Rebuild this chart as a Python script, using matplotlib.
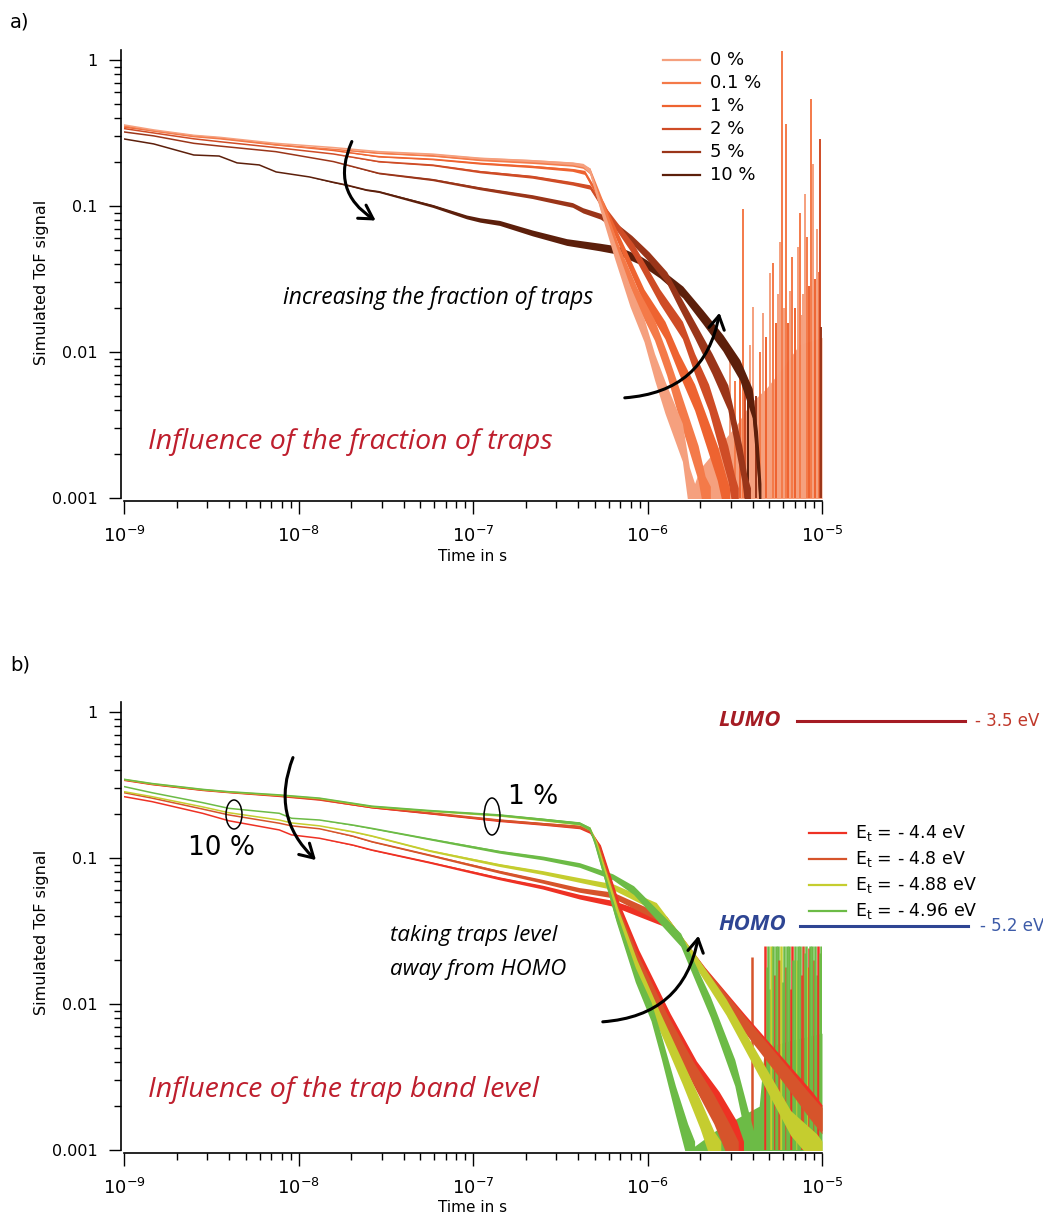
import numpy as np
import matplotlib
matplotlib.use('Agg')
import matplotlib.pyplot as plt
from matplotlib.patches import Ellipse, FancyArrowPatch
from matplotlib.lines import Line2D
from matplotlib.ticker import LogLocator, NullFormatter

W, H = 1043, 1216

# all curves: log10(time in s), log10(signal); *_n = half width of the noisy band (decades)

# ---------------- a) fraction of traps ----------------
frac_labels = ['0 %', '0.1 %', '1 %', '2 %', '5 %', '10 %']
frac_colors = ['#F5A07E', '#F47A49', '#EE6330', '#CF4C26', '#9A3519', '#5C1F0B']

plat_t = [-9.0, -8.83, -8.6, -8.45, -8.13, -7.8, -7.54, -7.23, -6.96, -6.66, -6.43]

a0_t = plat_t + [-6.37, -6.33, -6.27, -6.19, -6.10, -6.02, -5.96, -5.90, -5.80, -5.76, -5.73]
a0_y = [-0.445, -0.479, -0.516, -0.530, -0.571, -0.600, -0.628, -0.645, -0.673, -0.690, -0.708,
        -0.72, -0.76, -1.00, -1.30, -1.62, -1.85, -2.10, -2.31, -2.62, -2.95, -3.10]
a0_n = [0, 0, 0, 0, 0, 0, 0.003, 0.004, 0.006, 0.008, 0.01,
        0.012, 0.02, 0.035, 0.055, 0.07, 0.08, 0.09, 0.11, 0.13, 0.16, 0.2]

a01_t = plat_t + [-6.37, -6.33, -6.26, -6.17, -6.06, -5.96, -5.89, -5.83, -5.71, -5.67, -5.64]
a01_y = [-0.452, -0.487, -0.525, -0.540, -0.582, -0.612, -0.638, -0.656, -0.684, -0.701, -0.718,
         -0.73, -0.76, -0.98, -1.30, -1.62, -1.85, -2.08, -2.31, -2.76, -3.0, -3.1]
a01_n = [0, 0, 0, 0, 0, 0, 0.003, 0.004, 0.006, 0.008, 0.01,
         0.012, 0.02, 0.03, 0.045, 0.06, 0.07, 0.08, 0.1, 0.12, 0.15, 0.18]

a1_t = plat_t + [-6.36, -6.25, -6.14, -6.02, -5.90, -5.82, -5.73, -5.60, -5.55, -5.53]
a1_y = [-0.46, -0.485, -0.52, -0.535, -0.58, -0.62, -0.662, -0.68, -0.708, -0.73, -0.753,
        -0.77, -1.0, -1.30, -1.62, -1.85, -2.08, -2.31, -2.76, -3.0, -3.1]
a1_n = [0, 0, 0, 0, 0, 0, 0.003, 0.004, 0.006, 0.008, 0.01,
        0.014, 0.025, 0.04, 0.05, 0.06, 0.07, 0.09, 0.12, 0.15, 0.17]

a2_t = plat_t + [-6.33, -6.23, -6.08, -5.93, -5.80, -5.73, -5.65, -5.54, -5.50, -5.48]
a2_y = [-0.47, -0.50, -0.54, -0.56, -0.60, -0.644, -0.696, -0.72, -0.765, -0.80, -0.845,
        -0.87, -1.05, -1.30, -1.62, -1.85, -2.08, -2.31, -2.76, -3.0, -3.1]
a2_n = [0, 0, 0, 0, 0, 0, 0.003, 0.005, 0.008, 0.01, 0.012,
        0.015, 0.025, 0.04, 0.05, 0.06, 0.07, 0.09, 0.12, 0.15, 0.17]

a5_t = plat_t + [-6.37, -6.27, -6.18, -6.09, -5.99, -5.89, -5.82, -5.73, -5.63, -5.54, -5.46, -5.43, -5.41]
a5_y = [-0.493, -0.52, -0.571, -0.59, -0.628, -0.696, -0.776, -0.82, -0.879, -0.936, -0.993,
        -1.03, -1.07, -1.14, -1.23, -1.35, -1.49, -1.65, -1.85, -2.08, -2.31, -2.76, -3.0, -3.1]
a5_n = [0, 0, 0, 0, 0, 0, 0.004, 0.007, 0.01, 0.013, 0.016,
        0.018, 0.02, 0.024, 0.028, 0.034, 0.04, 0.048, 0.056, 0.07, 0.085, 0.12, 0.15, 0.17]

a10_t = [-9.0, -8.83, -8.6, -8.455, -8.352, -8.225, -8.128, -7.938, -7.806, -7.726, -7.611, -7.54,
         -7.23, -7.037, -6.96, -6.848, -6.659, -6.463, -6.274, -6.176, -6.044, -5.930, -5.798,
         -5.683, -5.568, -5.471, -5.40, -5.37, -5.35]
a10_y = [-0.541, -0.575, -0.651, -0.658, -0.705, -0.719, -0.767, -0.801, -0.836, -0.856, -0.890, -0.902,
         -1.0, -1.075, -1.096, -1.116, -1.185, -1.247, -1.281, -1.301, -1.370, -1.459, -1.589,
         -1.760, -1.938, -2.123, -2.35, -2.7, -3.1]
a10_n = [0, 0, 0, 0, 0, 0, 0, 0, 0.004, 0.004, 0.005, 0.006,
         0.01, 0.013, 0.015, 0.017, 0.02, 0.023, 0.026, 0.028, 0.03, 0.034, 0.04,
         0.048, 0.056, 0.07, 0.1, 0.16, 0.2]

# noisy tail at long times (0 % curve) and single spikes (curve index)
a_tail_t = [-5.76, -5.70, -5.49, -5.41, -5.32, -5.22, -5.13, -5.0]
a_tail_y = [-3.0, -2.8, -2.5, -2.35, -2.25, -2.1, -1.95, -1.9]
a_spk_t = [-5.528, -5.5, -5.471, -5.453, -5.442, -5.425, -5.41, -5.396, -5.379, -5.356, -5.339,
           -5.32, -5.298, -5.281, -5.264, -5.25, -5.241, -5.230, -5.218, -5.207, -5.195, -5.184,
           -5.172, -5.155, -5.138, -5.126, -5.115, -5.109, -5.098, -5.086, -5.075, -5.063, -5.052,
           -5.04, -5.029, -5.02, -5.011, -5.003]
a_spk_y = [-2.0, -2.2, -2.1, -1.02, -2.2, -2.25, -1.95, -1.69, -2.3, -2.0, -1.73,
           -1.9, -1.46, -1.39, -1.8, -1.6, -1.25, 0.06, -1.7, -0.44, -1.8, -1.58,
           -1.35, -1.7, -1.28, -1.05, -1.75, -1.6, -0.92, -1.21, -1.55, -0.27, -0.71,
           -1.5, -1.16, -1.45, -0.54, -1.83]
a_spk_c = [0, 1, 2, 1, 3, 5, 0, 0, 4, 1, 0,
           2, 0, 1, 2, 0, 0, 1, 0, 1, 2, 0,
           1, 2, 0, 1, 0, 0, 0, 1, 2, 1, 0,
           2, 0, 1, 3, 4]

# ---------------- b) trap band level ----------------
lvl_labels = ['E$_\\mathregular{t}$ = - 4.4 eV', 'E$_\\mathregular{t}$ = - 4.8 eV',
              'E$_\\mathregular{t}$ = - 4.88 eV', 'E$_\\mathregular{t}$ = - 4.96 eV']
lvl_colors = ['#EE3124', '#D6542B', '#C5CD2F', '#6CBB46']

plat_b_t = [-9.0, -8.84, -8.55, -8.40, -8.11, -7.88, -7.58, -7.25, -6.85, -6.6, -6.39]
# 1 % traps
b1_red_t = plat_b_t + [-6.33, -6.27, -6.16, -6.05, -5.87, -5.72, -5.59, -5.49, -5.45]
b1_red_y = [-0.468, -0.497, -0.537, -0.552, -0.578, -0.603, -0.655, -0.695, -0.745, -0.768, -0.79,
            -0.82, -0.93, -1.35, -1.68, -2.13, -2.47, -2.70, -2.93, -3.1]
b1_org_t = plat_b_t + [-6.33, -6.28, -6.17, -6.06, -5.89, -5.74, -5.62, -5.53, -5.48]
b1_org_y = [-0.465, -0.495, -0.535, -0.55, -0.575, -0.60, -0.65, -0.69, -0.74, -0.765, -0.785,
            -0.81, -0.92, -1.36, -1.70, -2.13, -2.47, -2.72, -2.95, -3.1]
b1_yel_t = plat_b_t + [-6.33, -6.29, -6.17, -6.06, -5.93, -5.80, -5.70, -5.62, -5.58]
b1_yel_y = [-0.463, -0.492, -0.532, -0.548, -0.571, -0.593, -0.648, -0.678, -0.708, -0.738, -0.765,
            -0.80, -0.91, -1.38, -1.75, -2.12, -2.47, -2.75, -3.0, -3.1]
b1_grn_t = plat_b_t + [-6.33, -6.30, -6.18, -6.07, -5.98, -5.92, -5.84, -5.77, -5.73]
b1_grn_y = [-0.461, -0.49, -0.53, -0.546, -0.568, -0.59, -0.645, -0.675, -0.705, -0.735, -0.762,
            -0.80, -0.90, -1.40, -1.80, -2.05, -2.30, -2.66, -2.95, -3.1]
b1_n = [0, 0, 0, 0, 0, 0, 0.003, 0.004, 0.006, 0.008, 0.01,
        0.012, 0.02, 0.035, 0.05, 0.065, 0.08, 0.1, 0.13, 0.16]

# 10 % traps
plat10_t = [-9.0, -8.84, -8.55, -8.40, -8.11, -8.04, -7.88, -7.69, -7.58, -7.25, -6.85, -6.6, -6.39, -6.20]
plat10_n = [0, 0, 0, 0, 0, 0, 0, 0.003, 0.004, 0.006, 0.01, 0.013, 0.016, 0.02]
b10_grn_t = plat10_t + [-6.08, -5.81, -5.64, -5.50, -5.41, -5.38]
b10_grn_y = [-0.511, -0.553, -0.621, -0.660, -0.694, -0.728, -0.74, -0.774, -0.797, -0.87, -0.957, -1.0,
             -1.048, -1.128, -1.22, -1.56, -2.02, -2.47, -2.93, -3.1]
b10_grn_n = plat10_n + [0.03, 0.045, 0.07, 0.09, 0.14, 0.18]
b10_yel_t = plat10_t + [-5.95, -5.74, -5.55, -5.34, -5.18, -5.03, -5.0]
b10_yel_y = [-0.546, -0.58, -0.65, -0.69, -0.74, -0.76, -0.78, -0.82, -0.849, -0.95, -1.048, -1.10,
             -1.151, -1.196, -1.335, -1.678, -2.02, -2.47, -2.815, -3.0, -3.05]
b10_yel_n = plat10_n + [0.03, 0.04, 0.055, 0.07, 0.085, 0.11, 0.11]
b10_org_t = plat10_t + [-5.89, -5.68, -5.45, -5.22, -5.07, -5.0]
b10_org_y = [-0.553, -0.59, -0.665, -0.705, -0.762, -0.78, -0.80, -0.85, -0.888, -0.98, -1.094, -1.16,
             -1.219, -1.253, -1.43, -1.78, -2.13, -2.47, -2.70, -2.80]
b10_org_n = plat10_n + [0.03, 0.04, 0.055, 0.07, 0.085, 0.09]
b10_red_t = plat10_t + [-5.88, -5.67, -5.44, -5.21, -5.06, -5.0]
b10_red_y = [-0.58, -0.614, -0.694, -0.745, -0.808, -0.842, -0.865, -0.911, -0.945, -1.03, -1.139, -1.20,
             -1.265, -1.31, -1.45, -1.79, -2.13, -2.46, -2.68, -2.78]
b10_red_n = plat10_n + [0.03, 0.04, 0.055, 0.07, 0.085, 0.09]

b_tail_t = [-5.76, -5.59, -5.36, -5.33, -5.18, -5.0]
b_tail_y = [-3.0, -2.85, -2.7, -2.3, -2.25, -2.2]
b_spk_t = [-5.402, -5.327, -5.318, -5.310, -5.298, -5.290, -5.281, -5.272, -5.264, -5.253, -5.244,
           -5.235, -5.226, -5.218, -5.207, -5.198, -5.189, -5.18, -5.172, -5.164, -5.155, -5.143,
           -5.135, -5.126, -5.117, -5.109, -5.10, -5.092, -5.083, -5.075, -5.066, -5.057, -5.048,
           -5.040, -5.031, -5.023, -5.014, -5.006]
b_spk_y = [-1.68, -1.6, -1.75, -1.6, -1.9, -1.6, -1.6, -1.8, -1.6, -1.6, -1.7,
           -1.6, -1.85, -1.6, -1.75, -1.6, -1.6, -1.9, -1.6, -1.7, -1.6, -1.7,
           -1.6, -1.6, -1.8, -1.6, -1.65, -1.6, -1.75, -1.62, -1.6, -1.6, -1.7,
           -1.6, -1.8, -1.6, -1.65, -1.6]
b_spk_c = [1, 0, 3, 3, 3, 2, 3, 0, 3, 3, 1,
           2, 3, 3, 1, 3, 3, 0, 0, 3, 3, 2,
           3, 3, 0, 1, 3, 3, 2, 0, 3, 3, 1,
           3, 3, 0, 3, 3]

ticks_y = [1e-3, 1e-2, 1e-1, 1]
ticks_y_lab = ['0.001', '0.01', '0.1', '1']
ticks_x = [1e-9, 1e-8, 1e-7, 1e-6, 1e-5]
ticks_x_lab = [r'$\mathregular{10^{-9}}$', r'$\mathregular{10^{-8}}$', r'$\mathregular{10^{-7}}$',
               r'$\mathregular{10^{-6}}$', r'$\mathregular{10^{-5}}$']

plt.rcParams['font.family'] = 'DejaVu Sans'
plt.rcParams['mathtext.fontset'] = 'dejavusans'

fig = plt.figure(figsize=(W / 100, H / 100), dpi=100)
RED = '#BE1E2D'


def ftext(x, y, s, **kw):
    kw.setdefault('va', 'center')
    fig.text(x / W, 1 - y / H, s, **kw)


def curve(ax, lt, ly, ln, color, z):
    t = 10.0 ** np.asarray(lt)
    y = np.asarray(ly)
    n = np.asarray(ln)
    ax.fill_between(t, 10 ** (y - n), 10 ** (y + n), color=color, lw=0, zorder=z)
    ax.plot(t, 10 ** y, color=color, lw=1.1, zorder=z)


def setup(ax):
    ax.set_xscale('log')
    ax.set_yscale('log')
    ax.set_xlim(1e-9, 1e-5)
    ax.set_ylim(1e-3, 1.17)
    for s in ['top', 'right']:
        ax.spines[s].set_visible(False)
    for s in ['left', 'bottom']:
        ax.spines[s].set_linewidth(1.2)
        ax.spines[s].set_position(('outward', 2))
    ax.set_yticks(ticks_y)
    ax.set_yticklabels(ticks_y_lab, fontsize=11.5)
    ax.set_xticks(ticks_x)
    ax.set_xticklabels(ticks_x_lab, fontsize=13)
    ax.yaxis.set_minor_locator(LogLocator(subs=range(2, 10)))
    ax.xaxis.set_minor_locator(LogLocator(subs=range(2, 10)))
    ax.yaxis.set_minor_formatter(NullFormatter())
    ax.xaxis.set_minor_formatter(NullFormatter())
    ax.tick_params(which='major', length=9, width=1.0, direction='out')
    ax.tick_params(which='minor', length=5, width=1.0, direction='out')
    ax.tick_params(axis='y', which='major', pad=8)
    ax.tick_params(axis='x', which='major', pad=9)


def arrow(p0, p1, rad):
    a = FancyArrowPatch((p0[0] / W, 1 - p0[1] / H), (p1[0] / W, 1 - p1[1] / H),
                        transform=fig.transFigure, connectionstyle='arc3,rad=%s' % rad,
                        arrowstyle='->,head_length=0.6,head_width=0.35', mutation_scale=16,
                        lw=2.2, color='black')
    fig.add_artist(a)


def hline(x0, x1, y, color, lw):
    fig.add_artist(Line2D([x0 / W, x1 / W], [1 - y / H, 1 - y / H], color=color, lw=lw,
                          transform=fig.transFigure))


# ---------- panel a ----------
axa = fig.add_axes([124 / W, 1 - 498 / H, 698 / W, 448 / H])
setup(axa)
a_curves = [(a10_t, a10_y, a10_n), (a5_t, a5_y, a5_n), (a2_t, a2_y, a2_n),
            (a1_t, a1_y, a1_n), (a01_t, a01_y, a01_n), (a0_t, a0_y, a0_n)]
axa.fill_between(10.0 ** np.array(a_tail_t), 5e-4, 10.0 ** np.array(a_tail_y),
                 color=frac_colors[0], lw=0, zorder=1)
for i, (lt, ly, ln) in enumerate(a_curves):
    curve(axa, lt, ly, ln, frac_colors[5 - i], 2 + i)
axa.vlines(10.0 ** np.array(a_spk_t), 5e-4, 10.0 ** np.array(a_spk_y),
           colors=[frac_colors[c] for c in a_spk_c], lw=1.4, zorder=1.5)

for i, lab in enumerate(frac_labels):
    y = 60 + 23 * i
    hline(663, 700, y, frac_colors[i], 1.6)
    ftext(710, y, lab, fontsize=13)

ftext(10, 22, 'a)', fontsize=14)
ftext(42, 282, 'Simulated ToF signal', fontsize=11.5, rotation=90, ha='center')
ftext(473, 557, 'Time in s', fontsize=11, ha='center')
ftext(283, 298, 'increasing the fraction of traps', fontsize=16.5, family='Open Sans', style='italic')
ftext(148, 442, 'Influence of the fraction of traps', fontsize=20.5, family='Open Sans',
      style='italic', color=RED)
arrow((353, 139), (378, 222), 0.45)
arrow((622, 398), (720, 310), 0.4)

# ---------- panel b ----------
axb = fig.add_axes([124 / W, 1 - 1150 / H, 698 / W, 448 / H])
setup(axb)
axb.fill_between(10.0 ** np.array(b_tail_t), 5e-4, 10.0 ** np.array(b_tail_y),
                 color=lvl_colors[3], lw=0, zorder=1)
b_curves = [(b10_red_t, b10_red_y, b10_red_n, 0), (b10_org_t, b10_org_y, b10_org_n, 1),
            (b10_yel_t, b10_yel_y, b10_yel_n, 2), (b10_grn_t, b10_grn_y, b10_grn_n, 3),
            (b1_red_t, b1_red_y, b1_n, 0), (b1_org_t, b1_org_y, b1_n, 1),
            (b1_yel_t, b1_yel_y, b1_n, 2), (b1_grn_t, b1_grn_y, b1_n, 3)]
for i, (lt, ly, ln, c) in enumerate(b_curves):
    curve(axb, lt, ly, ln, lvl_colors[c], 2 + i)
axb.vlines(10.0 ** np.array(b_spk_t), 5e-4, 10.0 ** np.array(b_spk_y),
           colors=[lvl_colors[c] for c in b_spk_c], lw=1.8, zorder=1.5)

for i, lab in enumerate(lvl_labels):
    y = 833 + 26 * i
    hline(809, 846, y, lvl_colors[i], 1.6)
    ftext(855, y, lab, fontsize=12.5)

ftext(10, 665, 'b)', fontsize=14)
ftext(42, 932, 'Simulated ToF signal', fontsize=11.5, rotation=90, ha='center')
ftext(473, 1207, 'Time in s', fontsize=11, ha='center')
ftext(718, 720, 'LUMO', fontsize=16, family='Open Sans', style='italic', weight='bold', color='#A51C24')
hline(797, 965, 721, '#A51C24', 2.2)
ftext(975, 721, '- 3.5 eV', fontsize=12, color='#C0392B')
ftext(718, 924, 'HOMO', fontsize=16, family='Open Sans', style='italic', weight='bold', color='#2E4593')
hline(800, 968, 926, '#2E4593', 2.2)
ftext(980, 926, '- 5.2 eV', fontsize=12, color='#3D5BA8')
ftext(508, 797, '1 %', fontsize=19)
ftext(188, 848, '10 %', fontsize=19)
for cx, cy, ew, eh in [(234, 814.5, 16, 29), (492, 816.5, 16, 37)]:
    fig.add_artist(Ellipse((cx / W, 1 - cy / H), ew / W, eh / H, transform=fig.transFigure,
                           fill=False, lw=1.1, color='black'))
ftext(390, 936, 'taking traps level', fontsize=16, family='Open Sans', style='italic')
ftext(390, 969, 'away from HOMO', fontsize=16, family='Open Sans', style='italic')
ftext(148, 1090, 'Influence of the trap band level', fontsize=20.5, family='Open Sans',
      style='italic', color=RED)
arrow((294, 755), (318, 862), 0.35)
arrow((600, 1022), (699, 933), 0.4)

fig.savefig('out.png', dpi=100)
